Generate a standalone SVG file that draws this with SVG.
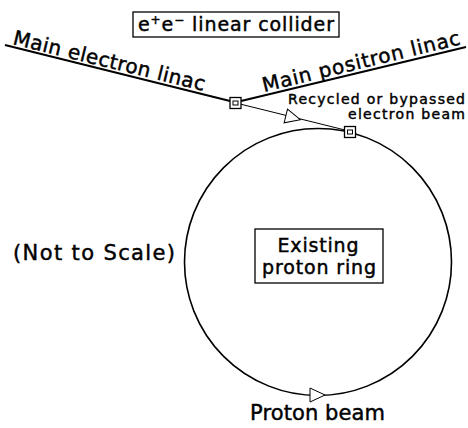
<svg xmlns="http://www.w3.org/2000/svg" width="468" height="428" viewBox="0 0 468 428">
<style>
.t{font-family:"DejaVu Sans","Liberation Sans",sans-serif;fill:#000;stroke:#000;stroke-width:0.45}
.box{fill:#fff;stroke:#000;stroke-width:1.3}
.thick{stroke:#000;stroke-width:2;fill:none}
.thin{stroke:#000;stroke-width:1;fill:none}
.tri{fill:#fff;stroke:#000;stroke-width:1}
.sq{fill:#fff;stroke:#000;stroke-width:1.3}
.sqi{fill:none;stroke:#000;stroke-width:1}
</style>
<defs>
<path id="tri" class="tri" d="M0,-7 L15,0 L0,7 Z"/>
<g id="mag"><rect class="sq" x="-5.5" y="-5.5" width="11" height="11"/><rect class="sqi" x="-2.5" y="-2" width="5" height="4"/></g>
</defs>
<rect width="468" height="428" fill="#fff"/>
<g id="connectors">
<line class="thick" x1="5" y1="45" x2="230" y2="101"/>
<line class="thick" x1="241" y1="101" x2="466" y2="47"/>
<line class="thin" x1="240" y1="104" x2="345" y2="130"/>
<use href="#tri" transform="translate(285.8,116) rotate(14)"/>
</g>
<g id="ring">
<circle class="thick" cx="318" cy="262" r="133.5" style="stroke-width:1.6"/>
<use href="#tri" transform="translate(310,395)"/>
</g>
<g id="title">
<rect class="box" x="133" y="12" width="206" height="25"/>
<text class="t" x="138" y="31" font-size="19" textLength="196">e<tspan font-size="12" dy="-7">+</tspan><tspan dy="7">e</tspan><tspan font-size="12" dy="-7">−</tspan><tspan dy="7"> linear collider</tspan></text>
</g>
<g id="electron-linac">
<text class="t" font-size="20" transform="translate(12,44) rotate(13.8)" textLength="197">Main electron linac</text>
</g>
<g id="positron-linac">
<text class="t" font-size="20" transform="translate(264,92) rotate(-13.6)" textLength="203">Main positron linac</text>
</g>
<g id="magnet-left"><use href="#mag" x="235.5" y="103"/></g>
<g id="magnet-right"><use href="#mag" x="350" y="132"/></g>
<g id="recycled-label">
<text class="t" font-size="14" text-anchor="end" x="465" y="104" textLength="177">Recycled or bypassed</text>
<text class="t" font-size="14" text-anchor="end" x="465" y="119" textLength="117">electron beam</text>
</g>
<g id="not-to-scale">
<text class="t" font-size="21" x="13" y="260" textLength="162">(Not to Scale)</text>
</g>
<g id="proton-ring">
<rect class="box" x="255" y="229" width="128" height="54"/>
<text class="t" font-size="19" text-anchor="middle" x="318" y="252" textLength="81">Existing</text>
<text class="t" font-size="19" text-anchor="middle" x="319" y="274" textLength="114">proton ring</text>
</g>
<g id="proton-beam">
<text class="t" font-size="21" x="250" y="420" textLength="135">Proton beam</text>
</g>
</svg>
